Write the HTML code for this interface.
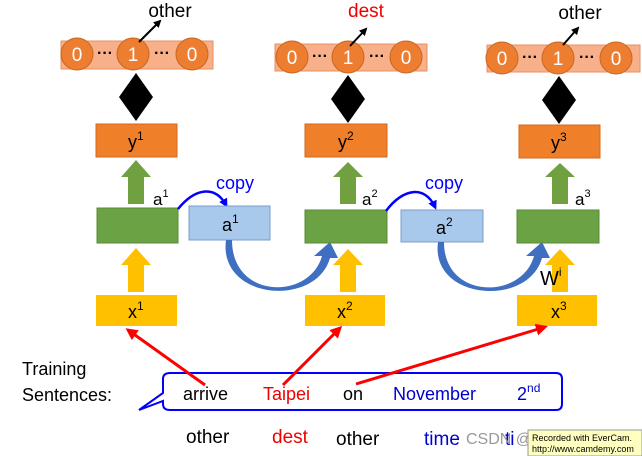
<!DOCTYPE html>
<html><head><meta charset="utf-8"><style>
body{margin:0;background:#fff;width:642px;height:456px;overflow:hidden}
svg{display:block;font-family:"Liberation Sans",Calibri,sans-serif}
</style></head><body>
<svg width="642" height="456" viewBox="0 0 642 456">
<defs>
<marker id="bk" markerWidth="8" markerHeight="8" refX="6" refY="4" orient="auto" markerUnits="userSpaceOnUse"><path d="M0,0 L8,4 L0,8 z" fill="#000"/></marker>
<marker id="bl" markerWidth="9" markerHeight="9" refX="6" refY="4.5" orient="auto" markerUnits="userSpaceOnUse"><path d="M0,0 L9,4.5 L0,9 z" fill="#00f"/></marker>
<marker id="rd" markerWidth="12" markerHeight="12" refX="9" refY="6" orient="auto" markerUnits="userSpaceOnUse"><path d="M0,0 L12,6 L0,12 z" fill="#f00"/></marker>
<g id="dbl"><path d="M0,24 L17,0 L34,24 L24,24 L24,24 L34,24 L17,48 L0,24 z" fill="#000"/><rect x="9" y="14" width="16" height="20" fill="#000"/></g>
</defs>
<!-- column 1 -->
<g>
<rect x="61" y="41" width="152" height="28" fill="#f8b08a" stroke="#e99060"/>
<circle cx="77" cy="54" r="16" fill="#ed7d31" stroke="#c8651f"/><text x="77" y="61" fill="#fff" font-size="19" text-anchor="middle">0</text>
<circle cx="133" cy="54" r="16" fill="#ed7d31" stroke="#c8651f"/><text x="133" y="61" fill="#fff" font-size="19" text-anchor="middle">1</text>
<circle cx="192" cy="54" r="16" fill="#ed7d31" stroke="#c8651f"/><text x="192" y="61" fill="#fff" font-size="19" text-anchor="middle">0</text>
<text x="105" y="58" font-size="16" text-anchor="middle" font-weight="bold">···</text><text x="162" y="58" font-size="16" text-anchor="middle" font-weight="bold">···</text>
<line x1="139" y1="42" x2="160" y2="21" stroke="#000" stroke-width="2" marker-end="url(#bk)"/>
<text x="170" y="17" font-size="19" text-anchor="middle">other</text>
<use href="#dbl" x="119" y="73"/>
<rect x="96" y="124" width="81" height="33" fill="#f07f2a" stroke="#d06a20"/><text x="128" y="148" font-size="18">y<tspan font-size="12" dy="-8">1</tspan></text>
<path d="M128,204 V177 H121 L136,160 L151,177 H144 V204 z" fill="#70a040"/>
<text x="153" y="205" font-size="17">a<tspan font-size="11" dy="-8">1</tspan></text>
<rect x="97" y="208" width="81" height="35" fill="#6aa244" stroke="#5a8a3a"/>
<path d="M128,292 V265 H121 L136,248 L151,265 H144 V292 z" fill="#ffc000"/>
<rect x="96" y="295" width="81" height="31" fill="#ffc000"/><text x="128" y="318" font-size="18">x<tspan font-size="12" dy="-8">1</tspan></text>
</g>
<!-- copy 1 -->
<path d="M178,209 C195,188 215,185 226,205" fill="none" stroke="#00f" stroke-width="2.5" marker-end="url(#bl)"/>
<text x="216" y="189" font-size="18" fill="#00f">copy</text>
<rect x="189" y="206" width="81" height="34" fill="#a8c8ec" stroke="#7a9cc8"/><text x="222" y="231" font-size="18">a<tspan font-size="12" dy="-8">1</tspan></text>
<path d="M232,240 C232,300 310,300 322,256 L314,256 L330,242 L338,258 L330,258 C316,308 218,300 226,240 z" fill="#3f6fc0"/>
<!-- column 2 -->
<g>
<rect x="275" y="44" width="152" height="27" fill="#f8b08a" stroke="#e99060"/>
<circle cx="292" cy="57" r="16" fill="#ed7d31" stroke="#c8651f"/><text x="292" y="64" fill="#fff" font-size="19" text-anchor="middle">0</text>
<circle cx="348" cy="57" r="16" fill="#ed7d31" stroke="#c8651f"/><text x="348" y="64" fill="#fff" font-size="19" text-anchor="middle">1</text>
<circle cx="406" cy="57" r="16" fill="#ed7d31" stroke="#c8651f"/><text x="406" y="64" fill="#fff" font-size="19" text-anchor="middle">0</text>
<text x="320" y="61" font-size="16" text-anchor="middle" font-weight="bold">···</text><text x="377" y="61" font-size="16" text-anchor="middle" font-weight="bold">···</text>
<line x1="350" y1="46" x2="366" y2="29" stroke="#000" stroke-width="2" marker-end="url(#bk)"/>
<text x="366" y="17" font-size="19" fill="#e00" text-anchor="middle">dest</text>
<use href="#dbl" x="331" y="75"/>
<rect x="305" y="124" width="82" height="33" fill="#f07f2a" stroke="#d06a20"/><text x="338" y="148" font-size="18">y<tspan font-size="12" dy="-8">2</tspan></text>
<path d="M340,204 V177 H333 L348,162 L363,177 H356 V204 z" fill="#70a040"/>
<text x="362" y="205" font-size="17">a<tspan font-size="11" dy="-8">2</tspan></text>
<rect x="305" y="210" width="82" height="33" fill="#6aa244" stroke="#5a8a3a"/>
<path d="M340,292 V265 H333 L348,249 L363,265 H356 V292 z" fill="#ffc000"/>
<rect x="305" y="295" width="80" height="31" fill="#ffc000"/><text x="337" y="318" font-size="18">x<tspan font-size="12" dy="-8">2</tspan></text>
</g>
<path d="M386,211 C403,188 425,185 435,207" fill="none" stroke="#00f" stroke-width="2.5" marker-end="url(#bl)"/>
<text x="425" y="189" font-size="18" fill="#00f">copy</text>
<rect x="401" y="210" width="82" height="32" fill="#a8c8ec" stroke="#7a9cc8"/><text x="436" y="234" font-size="18">a<tspan font-size="12" dy="-8">2</tspan></text>
<path d="M444,242 C444,300 522,300 534,256 L526,256 L542,242 L550,258 L542,258 C528,308 430,300 438,242 z" fill="#3f6fc0"/>
<!-- column 3 -->
<g>
<rect x="487" y="45" width="153" height="27" fill="#f8b08a" stroke="#e99060"/>
<circle cx="502" cy="58" r="16" fill="#ed7d31" stroke="#c8651f"/><text x="502" y="65" fill="#fff" font-size="19" text-anchor="middle">0</text>
<circle cx="558" cy="58" r="16" fill="#ed7d31" stroke="#c8651f"/><text x="558" y="65" fill="#fff" font-size="19" text-anchor="middle">1</text>
<circle cx="616" cy="58" r="16" fill="#ed7d31" stroke="#c8651f"/><text x="616" y="65" fill="#fff" font-size="19" text-anchor="middle">0</text>
<text x="530" y="62" font-size="16" text-anchor="middle" font-weight="bold">···</text><text x="587" y="62" font-size="16" text-anchor="middle" font-weight="bold">···</text>
<line x1="563" y1="45" x2="578" y2="28" stroke="#000" stroke-width="2" marker-end="url(#bk)"/>
<text x="580" y="19" font-size="19" text-anchor="middle">other</text>
<use href="#dbl" x="542" y="76"/>
<rect x="519" y="125" width="81" height="33" fill="#f07f2a" stroke="#d06a20"/><text x="551" y="149" font-size="18">y<tspan font-size="12" dy="-8">3</tspan></text>
<path d="M552,204 V177 H545 L560,163 L575,177 H568 V204 z" fill="#70a040"/>
<text x="575" y="205" font-size="17">a<tspan font-size="11" dy="-8">3</tspan></text>
<rect x="517" y="210" width="82" height="33" fill="#6aa244" stroke="#5a8a3a"/>
<path d="M552,292 V265 H545 L560,249 L575,265 H568 V292 z" fill="#ffc000"/>
<text x="540" y="285" font-size="20">W<tspan font-size="12" dy="-9">i</tspan></text>
<rect x="517" y="295" width="80" height="31" fill="#ffc000"/><text x="551" y="318" font-size="18">x<tspan font-size="12" dy="-8">3</tspan></text>
</g>
<!-- sentence -->
<text x="22" y="375" font-size="18">Training</text>
<text x="22" y="401" font-size="18">Sentences:</text>
<path d="M170,373 H556 Q562,373 562,379 V404 Q562,410 556,410 H170 Q163,410 163,404 V401 L139,410 L163,393 V379 Q163,373 170,373 z" fill="#fff" stroke="#00f" stroke-width="2"/>
<text x="183" y="400" font-size="18">arrive</text>
<text x="263" y="400" font-size="18" fill="#e00">Taipei</text>
<text x="343" y="400" font-size="18">on</text>
<text x="393" y="400" font-size="18" fill="#00c">November</text>
<text x="517" y="400" font-size="18" fill="#00c">2<tspan font-size="12" dy="-8">nd</tspan></text>
<line x1="205" y1="385" x2="128" y2="330" stroke="#f00" stroke-width="3" marker-end="url(#rd)"/>
<line x1="283" y1="385" x2="340" y2="328" stroke="#f00" stroke-width="3" marker-end="url(#rd)"/>
<line x1="356" y1="384" x2="545" y2="327" stroke="#f00" stroke-width="3" marker-end="url(#rd)"/>
<text x="186" y="443" font-size="19">other</text>
<text x="272" y="443" font-size="19" fill="#e00">dest</text>
<text x="336" y="445" font-size="19">other</text>
<text x="424" y="445" font-size="19" fill="#00c">time</text>
<text x="505" y="445" font-size="19" fill="#00c">ti</text>
<text x="466" y="444" font-size="16" fill="#999">CSDN @FavoriteStar</text>
<rect x="528" y="430" width="114" height="26" fill="#ffffc0" stroke="#999"/>
<text x="532" y="441" font-size="9">Recorded with EverCam.</text>
<text x="532" y="452" font-size="9">http://www.camdemy.com</text>
</svg>
</body></html>
